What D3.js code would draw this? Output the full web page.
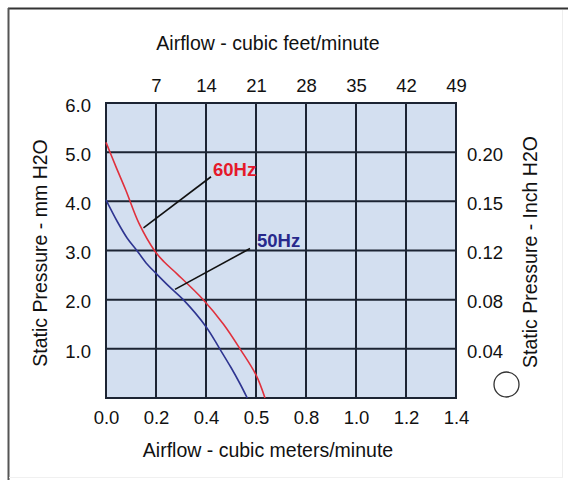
<!DOCTYPE html>
<html><head><meta charset="utf-8">
<script src="https://cdn.jsdelivr.net/npm/d3@7"></script>
<style>
html,body{margin:0;padding:0;background:#fff;}
text{font-family:"Liberation Sans",Arial,sans-serif;}
</style></head>
<body><svg id="c" width="568" height="480"></svg>
<script>
// Data (x: cubic meters/minute, y: mm H2O)
const hz60 = [[0,5.2],[0.04,4.7],[0.079,4.23],[0.132,3.55],[0.195,2.99],[0.232,2.77],[0.285,2.52],[0.389,2.0],[0.47,1.5],[0.536,1.0],[0.6,0.47],[0.636,0]];
const hz50 = [[0,4.03],[0.045,3.59],[0.085,3.25],[0.125,2.99],[0.165,2.72],[0.199,2.54],[0.25,2.28],[0.309,2.0],[0.4,1.45],[0.455,1.0],[0.5,0.62],[0.535,0.3],[0.565,0]];
const bottomTicks = [0,0.2,0.4,0.6,0.8,1.0,1.2,1.4];
const bottomLabels = ["0.0","0.2","0.4","0.5","0.8","1.0","1.2","1.4"];
const topTicks = [7,14,21,28,35,42,49];
const leftTicks = [1,2,3,4,5,6];
const leftLabels = ["1.0","2.0","3.0","4.0","5.0","6.0"];
const rightTicks = [1,2,3,4,5];
const rightLabels = ["0.04","0.08","0.12","0.15","0.20"];
const seriesNames = ["60Hz","50Hz"];
// annotation anchors in data units: [lineStart, lineEnd, labelPos]
const annot60 = [[0.15,3.46],[0.42,4.5],[0.428,4.52]];
const annot50 = [[0.276,2.21],[0.576,3.04],[0.604,3.07]];

const svg = d3.select("#c");
const L=106,R=456,T=103,B=398;
const x = d3.scaleLinear().domain([0,1.4]).range([L,R]);
const xTop = d3.scaleLinear().domain([0,49]).range([L,R]);
const y = d3.scaleLinear().domain([0,6]).range([B,T]);

// frame
svg.append("line").attr("x1",8).attr("x2",568).attr("y1",8.5).attr("y2",8.5).attr("stroke","#333").attr("stroke-width",2);
svg.append("line").attr("x1",8.5).attr("x2",8.5).attr("y1",8).attr("y2",480).attr("stroke","#555").attr("stroke-width",2);
svg.append("line").attr("x1",562.5).attr("x2",562.5).attr("y1",10).attr("y2",477).attr("stroke","#eee").attr("stroke-width",1);
svg.append("line").attr("x1",9).attr("x2",563).attr("y1",477.5).attr("y2",477.5).attr("stroke","#f0f0f0").attr("stroke-width",1);

// plot bg
svg.append("rect").attr("x",L).attr("y",T).attr("width",R-L).attr("height",B-T).attr("fill","#d3dff0");

// grid
const g = svg.append("g").attr("stroke","#1c2433").attr("stroke-width",2);
bottomTicks.forEach(v=>g.append("line").attr("x1",x(v)).attr("x2",x(v)).attr("y1",T).attr("y2",B));
[0].concat(leftTicks).forEach(v=>g.append("line").attr("x1",L-1).attr("x2",R+1).attr("y1",y(v)).attr("y2",y(v)));

// axes
const fs = "18.5px";
const axB = svg.append("g").attr("transform",`translate(0,${B})`)
  .call(d3.axisBottom(x).tickValues(bottomTicks).tickFormat((d,i)=>bottomLabels[i]).tickSize(0).tickPadding(13));
const axT = svg.append("g").attr("transform",`translate(0,${T})`)
  .call(d3.axisTop(xTop).tickValues(topTicks).tickSize(0).tickPadding(11));
const axL = svg.append("g").attr("transform",`translate(${L},0)`)
  .call(d3.axisLeft(y).tickValues(leftTicks).tickFormat((d,i)=>leftLabels[i]).tickSize(0).tickPadding(15));
const axR = svg.append("g").attr("transform",`translate(${R},0)`)
  .call(d3.axisRight(y).tickValues(rightTicks).tickFormat((d,i)=>rightLabels[i]).tickSize(0).tickPadding(11));
[axB,axT,axL,axR].forEach(a=>{
  a.select(".domain").remove();
  a.selectAll("text").attr("font-size",fs).attr("fill","#111").style("font-family","'Liberation Sans',Arial,sans-serif");
});
axL.selectAll("text").attr("dy","0.45em");
axR.selectAll("text").attr("dy","0.45em");

// titles
const tfs="19.5px";
svg.append("text").attr("x",268).attr("y",50).attr("text-anchor","middle").attr("font-size",tfs).attr("fill","#111").text("Airflow - cubic feet/minute");
svg.append("text").attr("x",268).attr("y",457).attr("text-anchor","middle").attr("font-size",tfs).attr("fill","#111").text("Airflow - cubic meters/minute");
svg.append("text").attr("transform","translate(47,253) rotate(-90)").attr("text-anchor","middle").attr("font-size",tfs).attr("fill","#111").text("Static Pressure - mm H2O");
svg.append("text").attr("transform","translate(537,252) rotate(-90)").attr("text-anchor","middle").attr("font-size",tfs).attr("fill","#111").text("Static Pressure - Inch H2O");

// circle
svg.append("circle").attr("cx",506.5).attr("cy",384.5).attr("r",12.5).attr("fill","none").attr("stroke","#333").attr("stroke-width",1.3);

// curves
const line = d3.line().x(d=>x(d[0])).y(d=>y(d[1])).curve(d3.curveCatmullRom.alpha(0.5));
svg.append("path").datum(hz50).attr("d",line).attr("fill","none").attr("stroke","#2e3591").attr("stroke-width",1.6);
svg.append("path").datum(hz60).attr("d",line).attr("fill","none").attr("stroke","#e0303c").attr("stroke-width",1.6);

// annotations
[[annot60,"#e5192b",seriesNames[0]],[annot50,"#28298c",seriesNames[1]]].forEach(([a,c,t])=>{
  svg.append("line").attr("x1",x(a[0][0])).attr("y1",y(a[0][1])).attr("x2",x(a[1][0])).attr("y2",y(a[1][1])).attr("stroke","#111").attr("stroke-width",1.6);
  svg.append("text").attr("x",x(a[2][0])).attr("y",y(a[2][1])).attr("font-size","18.5px").attr("font-weight","bold").attr("fill",c).text(t);
});
</script></body></html>
